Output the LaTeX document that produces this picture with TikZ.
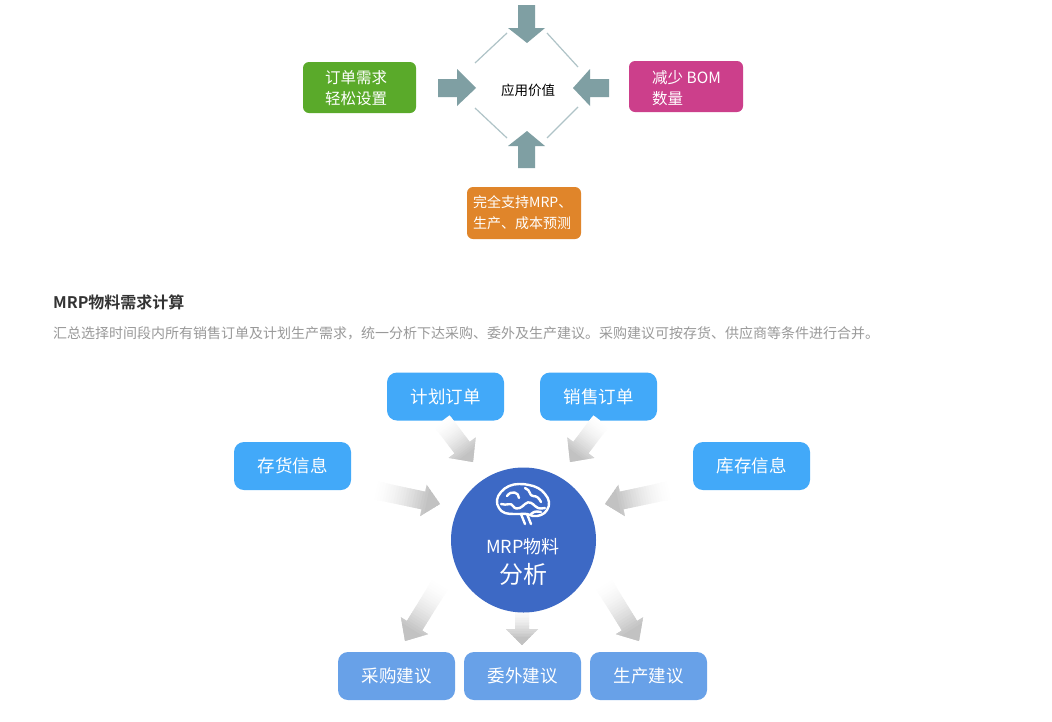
\documentclass[tikz,border=0pt]{standalone}
\usepackage{fontspec}
\setmainfont{Noto Sans CJK SC}
\newfontfamily\cjkb{Noto Sans CJK SC Bold}
\usetikzlibrary{calc}
\definecolor{tgreen}{HTML}{5AAA2A}
\definecolor{tmag}{HTML}{CC3F8B}
\definecolor{torange}{HTML}{E0852A}
\definecolor{tarrow}{HTML}{7F9FA3}
\definecolor{tline}{HTML}{AFC3C7}
\definecolor{bblue}{HTML}{42A9F9}
\definecolor{lblue}{HTML}{68A1E8}
\definecolor{cblue}{HTML}{3D69C5}
\definecolor{garrow}{HTML}{C2C2C2}
\definecolor{headc}{HTML}{333333}
\definecolor{subc}{HTML}{999999}
\tikzset{
  inbox/.style={fill=bblue, rounded corners=10pt, minimum width=117pt, minimum height=48pt, inner sep=0pt, text=white, font=\fontsize{17.5}{20}\selectfont},
  outbox/.style={fill=lblue, rounded corners=10pt, minimum width=117pt, minimum height=48pt, inner sep=0pt, text=white, font=\fontsize{17.5}{20}\selectfont},
  toptext/.style={text=white, align=left, anchor=west, inner sep=0pt},
  tarr/.style={fill=tarrow},
  dline/.style={draw=tline, line width=1.2pt},
  brain/.style={draw=white, line width=2.4pt, line cap=round, line join=round},
}
% gradient arrow: #1 tail, #2 tip, #3 shaft half width, #4 head half width, #5 head length
\newcommand\garr[5]{%
  \path ($(#2)!#5pt!(#1)$) coordinate (gB);
  \begin{scope}
  \clip ($(#1)!#3pt!90:(#2)$) -- ($(gB)!#3pt!90:(#2)$) -- ($(gB)!#4pt!90:(#2)$) -- (#2)
    -- ($(gB)!#4pt!-90:(#2)$) -- ($(gB)!#3pt!-90:(#2)$) -- ($(#1)!#3pt!-90:(#2)$) -- cycle;
  \foreach \i in {0,...,24}{%
    \pgfmathsetmacro\pc{min(100,100*(\i/20)^1.6)}%
    \path ($(#1)!\i/25!(#2)$) coordinate (ga) ($(#1)!\i/25+0.07!(#2)$) coordinate (gb);
    \fill[garrow!\pc!white] ($(ga)!30pt!90:(#2)$) -- ($(ga)!30pt!-90:(#2)$) -- ($(gb)!30pt!-90:(#2)$) -- ($(gb)!30pt!90:(#2)$) -- cycle;
  }
  \end{scope}
}
\begin{document}
\begin{tikzpicture}[x=1pt,y=-1pt]
\useasboundingbox (0,0) rectangle (1052,721);
\fill[white] (0,0) rectangle (1052,721);

% ---------- top diagram ----------
\draw[dline] (475,63) -- (507,33);
\draw[dline] (547,33) -- (578,67);
\draw[dline] (475,108) -- (507,138);
\draw[dline] (547,138) -- (578,107);

\node[font=\fontsize{13.5}{16}\selectfont] (val) at (528,90) {应用价值};

% top arrow
\fill[tarr] (518,5) -- (535,5) -- (535,28) -- (545,28) -- (527,43) -- (508,28) -- (518,28) -- cycle;
% left arrow
\fill[tarr] (438,79) -- (457,79) -- (457,69) -- (476,88) -- (457,106) -- (457,97) -- (438,97) -- cycle;
% right arrow
\fill[tarr] (609,79) -- (590,79) -- (590,69) -- (573,88) -- (590,106) -- (590,97) -- (609,97) -- cycle;
% bottom arrow
\fill[tarr] (518,168) -- (535,168) -- (535,146) -- (545,146) -- (527,131) -- (508,146) -- (518,146) -- cycle;

\fill[tgreen, rounded corners=6pt] (303,62) rectangle (416,113);
\node[toptext, font=\fontsize{15.5}{21}\selectfont] (g) at (325,88) {订单需求\\轻松设置};
\fill[tmag, rounded corners=6pt] (629,61) rectangle (743,112);
\node[toptext, font=\fontsize{15.5}{21}\selectfont] (m) at (652,88) {减少 BOM\\数量};
\fill[torange, rounded corners=6pt] (467,187) rectangle (581,239);
\node[toptext, font=\fontsize{14}{21}\selectfont] (o) at (473,213) {完全支持MRP、\\生产、成本预测};

% ---------- heading ----------
\node[anchor=west, text=headc, font=\cjkb\fontsize{16}{18}\selectfont, inner sep=0pt] (h) at (53,302) {MRP物料需求计算};
\node[anchor=west, text=subc, font=\fontsize{14}{16}\selectfont, inner sep=0pt] (s) at (53,333) {汇总选择时间段内所有销售订单及计划生产需求，统一分析下达采购、委外及生产建议。采购建议可按存货、供应商等条件进行合并。};

% ---------- bottom diagram ----------
\node[inbox] (jh) at (445.5,396.5) {计划订单};
\node[inbox] (xs) at (598.5,396.5) {销售订单};
\node[inbox] (ch) at (292.5,466) {存货信息};
\node[inbox] (kc) at (751.5,466) {库存信息};
\node[outbox] (cg) at (396.5,676) {采购建议};
\node[outbox] (ww) at (522.5,676) {委外建议};
\node[outbox] (sc) at (648.5,676) {生产建议};

% gradient arrows
\coordinate (t1) at (442,421); \coordinate (p1) at (473,462);
\garr{t1}{p1}{9.5}{17}{18}
\coordinate (t2) at (601,421); \coordinate (p2) at (570,462);
\garr{t2}{p2}{9.5}{17}{18}
\coordinate (t3) at (374,490); \coordinate (p3) at (440,504);
\garr{t3}{p3}{9}{16}{17}
\coordinate (t4) at (671,490); \coordinate (p4) at (605,504);
\garr{t4}{p4}{9}{16}{17}
\coordinate (t5) at (441,583); \coordinate (p5) at (405,641);
\garr{t5}{p5}{9}{16}{18}
\coordinate (t6) at (522,606); \coordinate (p6) at (522,645);
\garr{t6}{p6}{7}{16}{16}
\coordinate (t7) at (603,583); \coordinate (p7) at (639,641);
\garr{t7}{p7}{9}{16}{18}

% circle
\node[circle, fill=cblue, minimum size=145pt, inner sep=0pt] (c) at (523.5,540) {};
\node[text=white, font=\fontsize{18}{20}\selectfont] (c1) at (523,547) {MRP物料};
\node[text=white, font=\fontsize{24}{26}\selectfont] (c2) at (523,574) {分析};

% brain icon
\begin{scope}[shift={(523,502)}]
\draw[brain] plot[smooth cycle, tension=0.7] coordinates {
  (-8,12) (-18,11) (-24,6) (-26,-2) (-22,-10) (-14,-16) (-4,-18) (6,-17) (15,-14) (22,-8) (26,0) (24,8) (18,13) (10,14) (4,12)};
\draw[brain] (-16,-6) .. controls (-12,-12) and (-4,-10) .. (-4,-4);
\draw[brain] (-22,2) .. controls (-16,4) and (-12,0) .. (-10,4);
\draw[brain] (-10,4) .. controls (-6,10) and (0,4) .. (2,2) .. controls (6,-2) and (10,2) .. (12,4);
\draw[brain] (2,-14) .. controls (8,-12) and (6,-6) .. (10,-6) .. controls (14,-6) and (16,-4) .. (18,0);
\draw[brain] (12,4) .. controls (16,8) and (20,6) .. (22,6);
\draw[brain] (-2,12) -- (2,22);
\draw[brain] (4,12) -- (8,22);
\draw[brain] (8,12) .. controls (12,8) and (16,10) .. (18,10);
\end{scope}
\end{tikzpicture}
\end{document}
